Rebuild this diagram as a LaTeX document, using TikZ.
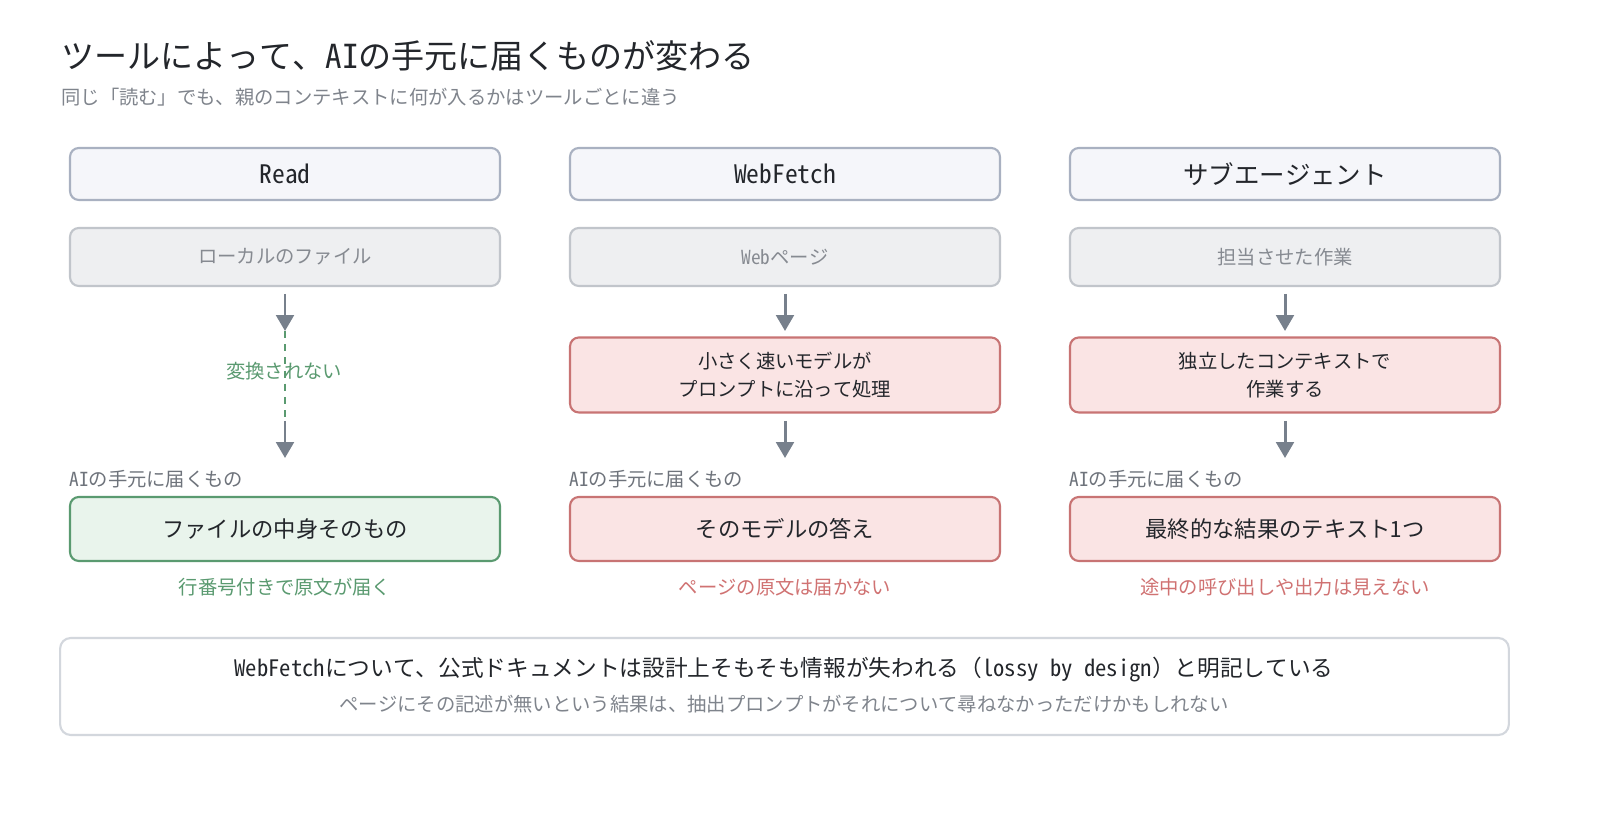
\documentclass[tikz,border=0pt]{standalone}
\usepackage{fontspec}
\setmainfont{Noto Sans Mono CJK JP}
\usetikzlibrary{arrows.meta}
\definecolor{titlec}{HTML}{23262B}
\definecolor{subc}{HTML}{7F848C}
\definecolor{hdfill}{HTML}{F5F6FA}
\definecolor{hddraw}{HTML}{A9B1C1}
\definecolor{srcfill}{HTML}{EEEFF1}
\definecolor{srcdraw}{HTML}{C1C5CB}
\definecolor{srctext}{HTML}{868A91}
\definecolor{arrc}{HTML}{77808C}
\definecolor{grn}{HTML}{5A9A70}
\definecolor{grnfill}{HTML}{E9F4EC}
\definecolor{redfill}{HTML}{FAE4E4}
\definecolor{reddraw}{HTML}{C87474}
\definecolor{redtext}{HTML}{D07272}
\definecolor{lblc}{HTML}{6E737B}
\definecolor{botdraw}{HTML}{D3D7DD}
\tikzset{
  px/.style={x=0.02cm,y=-0.02cm},
  hdbox/.style={draw=hddraw,fill=hdfill,line width=1.2pt,rounded corners=5pt,minimum width=8.6cm,minimum height=1.04cm,inner sep=0pt,font=\fontsize{14.5}{16}\selectfont,text=titlec},
  srcbox/.style={draw=srcdraw,fill=srcfill,line width=1.2pt,rounded corners=5pt,minimum width=8.6cm,minimum height=1.16cm,inner sep=0pt,font=\fontsize{11}{13}\selectfont,text=srctext},
  procbox/.style={draw=reddraw,fill=redfill,line width=1.2pt,rounded corners=5pt,minimum width=8.6cm,minimum height=1.5cm,inner sep=0pt,align=center,font=\fontsize{11}{16}\selectfont,text=titlec},
  resbox/.style={line width=1.2pt,rounded corners=5pt,minimum width=8.6cm,minimum height=1.28cm,inner sep=0pt,font=\fontsize{12.7}{14}\selectfont,text=titlec},
  resgood/.style={resbox,draw=grn,fill=grnfill},
  resbad/.style={resbox,draw=reddraw,fill=redfill},
  lbl/.style={anchor=west,inner sep=0pt,font=\fontsize{11}{13}\selectfont,text=lblc},
  note/.style={inner sep=0pt,font=\fontsize{11}{13}\selectfont},
  flow/.style={draw=arrc,line width=1.7pt,-{Triangle[width=10pt,length=9pt]}},
}
\begin{document}
\begin{tikzpicture}[px]
\useasboundingbox[fill=white] (0,0) rectangle (1600,820);
% title
\node[anchor=west,inner sep=0pt,font=\fontsize{18.8}{21}\selectfont,text=titlec] (title) at (61,56) {ツールによって、AIの手元に届くものが変わる};
\node[anchor=west,inner sep=0pt,font=\fontsize{11}{13}\selectfont,text=subc] (sub) at (61,97) {同じ「読む」でも、親のコンテキストに何が入るかはツールごとに違う};

% column 1: Read
\node[hdbox] (h1) at (285,174) {Read};
\node[srcbox] (s1) at (285,257) {ローカルのファイル};
\coordinate (a1s) at (285,294);
\coordinate (a1e) at (285,331);
\coordinate (d1e) at (285,421);
\coordinate (b1e) at (285,458);
\draw[flow] (a1s) -- (a1e);
\draw[grn,line width=1.7pt,dash pattern=on 4pt off 3.5pt] (a1e) -- (d1e);
\draw[flow] (d1e) -- (b1e);
\node[note,text=grn] (n1) at (284,371) {変換されない};
\node[lbl] (l1) at (69,479) {AIの手元に届くもの};
\node[resgood] (r1) at (285,529) {ファイルの中身そのもの};
\node[note,text=grn] (f1) at (285,587) {行番号付きで原文が届く};

% column 2: WebFetch
\node[hdbox] (h2) at (785,174) {WebFetch};
\node[srcbox] (s2) at (785,257) {Webページ};
\node[procbox] (p2) at (785,375) {小さく速いモデルが\\プロンプトに沿って処理};
\node[lbl] (l2) at (569,479) {AIの手元に届くもの};
\node[resbad] (r2) at (785,529) {そのモデルの答え};
\node[note,text=redtext] (f2) at (785,587) {ページの原文は届かない};
\coordinate (a2s) at (785,294);
\coordinate (a2e) at (785,331);
\coordinate (b2s) at (785,421);
\coordinate (b2e) at (785,458);
\draw[flow] (a2s) -- (a2e);
\draw[flow] (b2s) -- (b2e);

% column 3: subagent
\node[hdbox] (h3) at (1285,174) {サブエージェント};
\node[srcbox] (s3) at (1285,257) {担当させた作業};
\node[procbox] (p3) at (1285,375) {独立したコンテキストで\\作業する};
\node[lbl] (l3) at (1069,479) {AIの手元に届くもの};
\node[resbad] (r3) at (1285,529) {最終的な結果のテキスト1つ};
\node[note,text=redtext] (f3) at (1285,587) {途中の呼び出しや出力は見えない};
\coordinate (a3s) at (1285,294);
\coordinate (a3e) at (1285,331);
\coordinate (b3s) at (1285,421);
\coordinate (b3e) at (1285,458);
\draw[flow] (a3s) -- (a3e);
\draw[flow] (b3s) -- (b3e);

% bottom note
\node[draw=botdraw,fill=white,line width=1.2pt,rounded corners=6pt,minimum width=28.98cm,minimum height=1.94cm,inner sep=0pt] (bot) at (784.5,686.5) {};
\node[inner sep=0pt,font=\fontsize{12.9}{14}\selectfont,text=titlec] (bt1) at (784,670) {WebFetchについて、公式ドキュメントは設計上そもそも情報が失われる（lossy by design）と明記している};
\node[inner sep=0pt,font=\fontsize{11}{13}\selectfont,text=subc] (bt2) at (784,704) {ページにその記述が無いという結果は、抽出プロンプトがそれについて尋ねなかっただけかもしれない};
\end{tikzpicture}
\end{document}
